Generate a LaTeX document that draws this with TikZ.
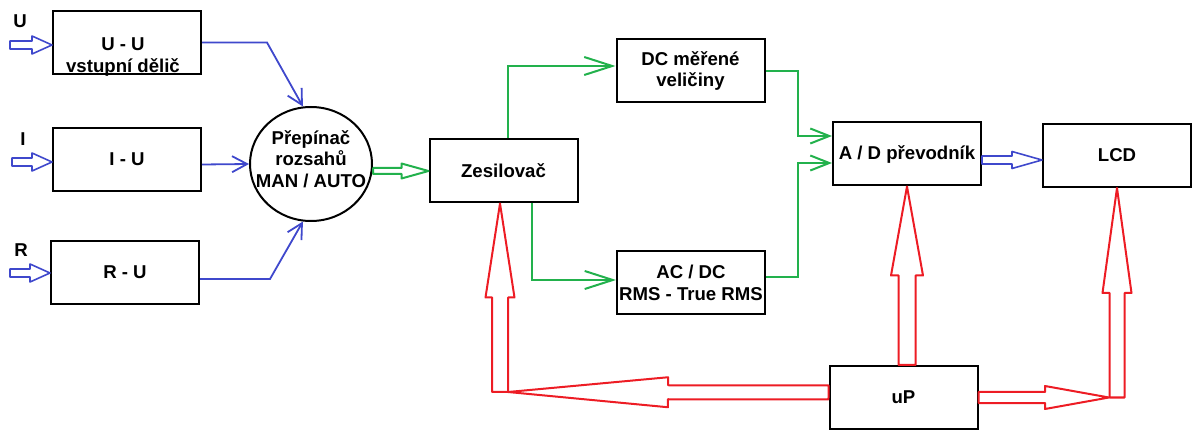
\documentclass[tikz,border=0pt]{standalone}
\usepackage{fontspec}
\setmainfont{Liberation Sans}
\usetikzlibrary{arrows.meta,calc,shapes.geometric}

\definecolor{pblue}{RGB}{63,72,204}
\definecolor{pgreen}{RGB}{34,177,76}
\definecolor{pred}{RGB}{237,28,36}

% hollow (outlined) arrow: [style]{from}{to}{shaft half width}{head half width}{head length}
\newcommand{\fatarrow}[6][]{%
  \coordinate (fa-s) at (#2);
  \coordinate (fa-e) at (#3);
  \coordinate (fa-b) at ($(fa-e)!#6!(fa-s)$);
  \draw[line width=2pt,line join=round,#1]
    ($(fa-s)!#4!90:(fa-e)$) -- ($(fa-b)!#4!-90:(fa-s)$) -- ($(fa-b)!#5!-90:(fa-s)$)
    -- (fa-e) -- ($(fa-b)!#5!90:(fa-s)$) -- ($(fa-b)!#4!90:(fa-s)$)
    -- ($(fa-s)!#4!-90:(fa-e)$) -- cycle;}

\begin{document}
\begin{tikzpicture}[x=1pt,y=-1pt,
  blk/.style={draw, line width=2pt, minimum width=148pt, minimum height=63pt,
    inner sep=0pt, align=center, font=\bfseries\fontsize{18.6pt}{21.5pt}\selectfont},
  txt/.style={align=center, inner sep=0pt, font=\bfseries\fontsize{18.6pt}{21.5pt}\selectfont},
  bline/.style={pblue, line width=1.8pt, -{Straight Barb[length=15pt,width=16pt]}},
  gline/.style={pgreen, line width=2pt, -{Straight Barb[length=19pt,width=15pt]}}]
  \useasboundingbox (0,0) rectangle (1192,430);

  % Input converters
  \node[blk] (uu) at (127,42.5) {};
  \node[txt] (uutext) at (123,57) {U - U\\vstupní dělič};
  \node[blk] (iu) at (127,159.5) {I - U};
  \node[blk] (ru) at (125,272.5) {R - U};
  \node[txt] (labU) at (20,21.5) {U};
  \node[txt] (labI) at (23,139.5) {I};
  \node[txt] (labR) at (21,250) {R};

  % Range switch
  \node[draw, ellipse, line width=2pt, minimum width=122pt, minimum height=114pt] (sw) at (311,164) {};
  \node[txt] (swtext) at (311,159) {Přepínač\\rozsahů\\MAN / AUTO};

  % Signal path
  \node[blk] (zs) at (503.5,171) {Zesilovač};
  \node[blk] (dc) at (690.5,71) {DC měřené\\veličiny};
  \node[blk] (ac) at (691,283) {AC / DC\\RMS - True RMS};
  \node[blk] (ad) at (907,154) {A / D převodník};
  \node[blk] (lcd) at (1117,155.5) {LCD};
  \node[blk] (up) at (903.5,397.5) {uP};

  % Inputs
  \coordinate (inU) at (10,45);
  \coordinate (inI) at (12,162);
  \coordinate (inR) at (10,273);
  \fatarrow[pblue,line width=1.6pt]{inU}{inU -| uu.west}{4pt}{9pt}{20pt}
  \fatarrow[pblue,line width=1.6pt]{inI}{inI -| iu.west}{4pt}{9pt}{20pt}
  \fatarrow[pblue,line width=1.6pt]{inR}{inR -| ru.west}{4pt}{9pt}{20pt}

  % To the switch
  \draw[bline] (uu.east) -- ++(65,0) -- (sw.98);
  \draw[bline] ([yshift=-5pt]iu.east) -- (sw.west);
  \draw[bline] ([yshift=-6.5pt]ru.east) -- ++(70,0) -- (sw.262);

  % Amplifier and branches
  \fatarrow[pgreen]{sw.east |- zs.west}{zs.west}{3pt}{7.5pt}{27pt}
  \draw[gline,-{Straight Barb[length=28pt,width=18pt]}] ([xshift=4pt]zs.north) |- ([yshift=5pt]dc.west);
  \draw[gline,-{Straight Barb[length=28pt,width=18pt]}] ([xshift=28pt]zs.south) |- ([yshift=3pt]ac.west);
  \draw[gline] (dc.east) -- ++(32,0) |- ([yshift=18pt]ad.west);
  \draw[gline] ([yshift=6pt]ac.east) -- ++(32,0) |- ([yshift=-9pt]ad.west);

  % A/D to display
  \coordinate (adout) at ([yshift=-6pt]ad.east);
  \fatarrow[pblue,line width=1.6pt]{adout}{adout -| lcd.west}{4pt}{8.5pt}{30pt}

  % Microprocessor buses
  \coordinate (zc) at (500,392);
  \coordinate (upl) at ([yshift=5pt]up.west);
  \coordinate (lc) at (lcd.south |- up.east);
  \fatarrow[pred]{ad.south |- up.north}{ad.south}{8.5pt}{16pt}{89pt}
  \fatarrow[pred]{upl}{$(zc)+(8,0)$}{7pt}{15pt}{160pt}
  \fatarrow[pred]{zc}{zc |- zs.south}{8pt}{14.5pt}{94pt}
  \fatarrow[pred]{up.east}{$(lc)+(-8,0)$}{5.5pt}{11.5pt}{64pt}
  \fatarrow[pred]{lc}{lcd.south}{7.5pt}{14.5pt}{105pt}
\end{tikzpicture}
\end{document}
